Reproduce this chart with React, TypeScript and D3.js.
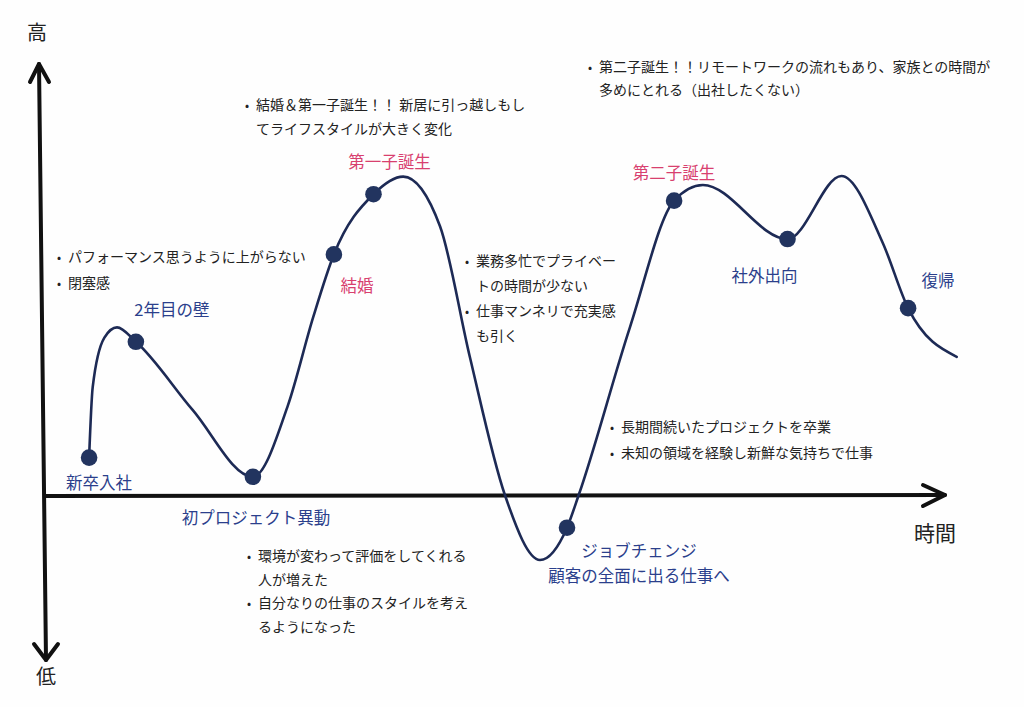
import React from "react";
import * as d3 from "d3";

// ---- data ----
const times = [4.9, 5.3, 6.6, 8.0, 10.1, 16.4, 23.1, 27.0, 29.8, 32.1, 36.5, 39.8, 43.9, 47.2, 51.1, 55.0, 58.0, 59.3, 65.0, 69.9, 73.1, 82.5, 88.5, 93.1, 95.9, 101.3];
const motivation = [12.0, 34.0, 49.5, 52.7, 48.2, 26.9, 6.0, 28.4, 55.9, 75.5, 94.3, 99.8, 84.2, 43.5, 0.3, -20, -9.9, 0.3, 52.8, 92.3, 97.2, 80.3, 100, 79, 58.7, 43.5];
const eventIndex = [0, 4, 6, 9, 10, 16, 19, 21, 24];
const eventNames = [["新卒入社"], ["2年目の壁"], ["初プロジェクト異動"], ["結婚"], ["第一子誕生"], ["ジョブチェンジ", "顧客の全面に出る仕事へ"], ["第二子誕生"], ["社外出向"], ["復帰"]];
const eventKinds = ["work", "work", "work", "life", "life", "work", "life", "work", "work"];
const notes = [
  ["• パフォーマンス思うように上がらない", "• 閉塞感"],
  ["• 結婚＆第一子誕生！！ 新居に引っ越しもし", "  てライフスタイルが大きく変化"],
  ["• 第二子誕生！！リモートワークの流れもあり、家族との時間が", "  多めにとれる（出社したくない）"],
  ["• 業務多忙でプライベー", "  トの時間が少ない", "• 仕事マンネリで充実感", "  も引く"],
  ["• 長期間続いたプロジェクトを卒業", "• 未知の領域を経験し新鮮な気持ちで仕事"],
  ["• 環境が変わって評価をしてくれる", "  人が増えた", "• 自分なりの仕事のスタイルを考え", "  るようになった"],
];
const axisHigh = "高";
const axisLow = "低";
const axisTime = "時間";

// ---- layout ----
const W = 1024, H = 707;
const x = d3.scaleLinear().domain([0, 100]).range([45, 945]);
const y = d3.scaleLinear().domain([-51.25, 135]).range([660, 64]);
const FONT = "'Noto Sans CJK JP', 'Noto Sans', sans-serif";
const kindColor: Record<string, string> = { work: "#2b3f8c", life: "#d8406f" };
// label anchor offsets (px) relative to each event dot: [dx, dy]
const labelOffset = [[10, 31], [36, -26], [3, 47], [23, 38], [16, -26], [72, 29], [0, -22], [-23, 43], [30, -21]];
const noteLayout = [
  { x: 57, y: 262, lh: 26 },
  { x: 245, y: 110, lh: 24 },
  { x: 588, y: 72, lh: 23 },
  { x: 465, y: 266, lh: 25 },
  { x: 610, y: 432, lh: 26 },
  { x: 247, y: 561, lh: 23.5 },
];

export default function App() {
  const pts: [number, number][] = times.map((t, i) => [x(t), y(motivation[i])]);
  const line = d3.line<[number, number]>().x((d) => d[0]).y((d) => d[1]).curve(d3.curveMonotoneX);
  const [x0, x1] = x.domain();
  const [yLo, yHi] = y.domain();
  const axisX = 42;
  return (
    <svg width={W} height={H} style={{ position: "absolute", left: 0, top: 0, background: "#fff" }} fontFamily={FONT}>
      <rect width={W} height={H} fill="#fefefe" />
      {/* axes */}
      <g stroke="#111" strokeWidth={4} fill="none" strokeLinecap="round" strokeLinejoin="round">
        <line x1={axisX - 3} y1={y(yHi)} x2={axisX + 4} y2={y(yLo)} />
        <polyline points={`${axisX - 12},${y(yHi) + 18} ${axisX - 3},${y(yHi)} ${axisX + 7},${y(yHi) + 18}`} />
        <polyline points={`${axisX - 8},${y(yLo) - 16} ${axisX + 4},${y(yLo)} ${axisX + 16},${y(yLo) - 16}`} />
        <line x1={x(x0)} y1={y(0)} x2={x(x1)} y2={y(0) - 1} />
        <polyline points={`${x(x1) - 22},${y(0) - 11} ${x(x1)},${y(0) - 1} ${x(x1) - 22},${y(0) + 10}`} />
      </g>
      <text x={37} y={40} fontSize={20} textAnchor="middle" fill="#222">{axisHigh}</text>
      <text x={46} y={684} fontSize={20} textAnchor="middle" fill="#222">{axisLow}</text>
      <text x={935} y={541} fontSize={21} textAnchor="middle" fill="#222">{axisTime}</text>

      {/* curve */}
      <path d={line(pts) || ""} fill="none" stroke="#1d2a55" strokeWidth={2.6} strokeLinecap="round" />
      {eventIndex.map((idx, i) => (
        <circle key={i} cx={pts[idx][0]} cy={pts[idx][1]} r={8.3} fill="#22345f" />
      ))}

      {/* event labels */}
      {eventIndex.map((idx, i) => (
        <text key={i} x={pts[idx][0] + labelOffset[i][0]} y={pts[idx][1] + labelOffset[i][1]} fontSize={16.5} textAnchor="middle" fill={kindColor[eventKinds[i]]}>
          {eventNames[i].map((s, j) => (
            <tspan key={j} x={pts[idx][0] + labelOffset[i][0]} dy={j === 0 ? 0 : 25}>{s}</tspan>
          ))}
        </text>
      ))}

      {/* notes */}
      {notes.map((lines, i) => (
        <g key={i} fill="#222" fontSize={14}>
          {lines.map((s, j) => {
            const bullet = s.startsWith("•");
            const body = s.replace(/^•\s*/, "").replace(/^\s+/, "");
            return (
              <g key={j}>
                {bullet && <text x={noteLayout[i].x} y={noteLayout[i].y + j * noteLayout[i].lh} fontSize={12}>•</text>}
                <text x={noteLayout[i].x + 11} y={noteLayout[i].y + j * noteLayout[i].lh}>{body}</text>
              </g>
            );
          })}
        </g>
      ))}
    </svg>
  );
}
